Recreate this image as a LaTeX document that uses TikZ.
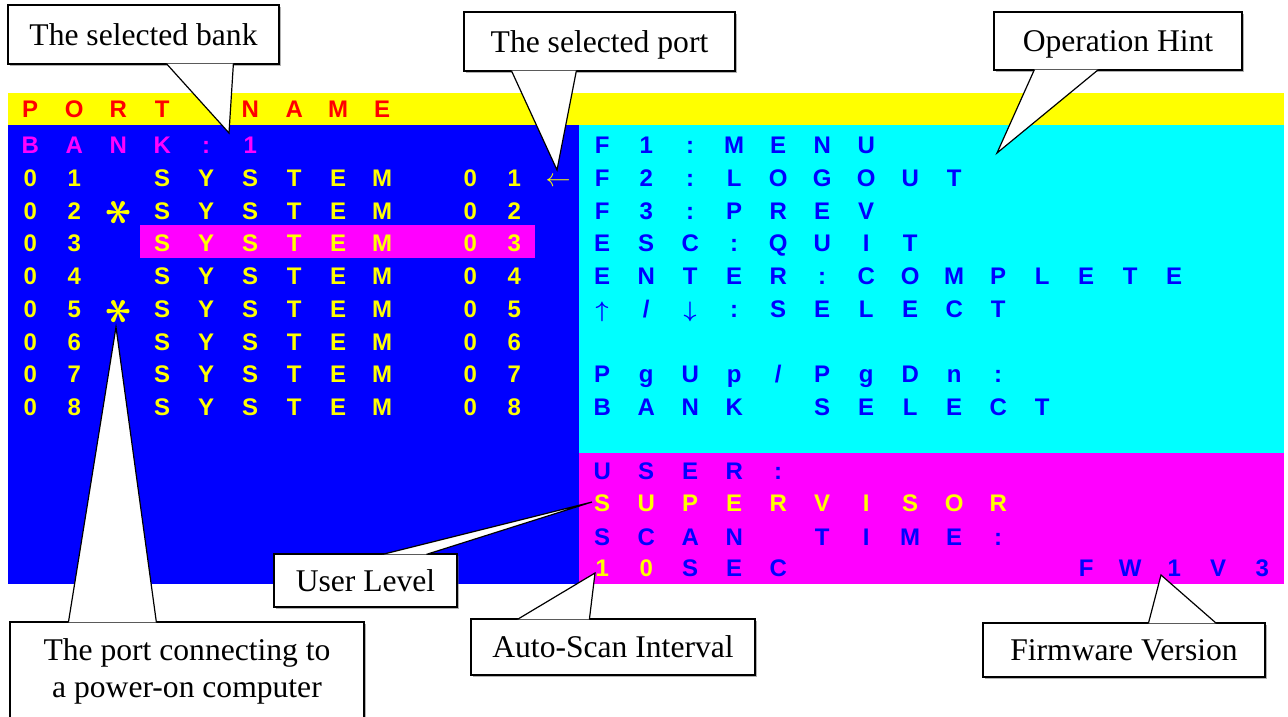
\documentclass[tikz,border=0pt]{standalone}
\usepackage{fontspec}
\usepackage{graphicx}
\setmainfont{Liberation Serif}
\newfontfamily\osdfamily{Liberation Sans}
\usetikzlibrary{calc,shadows}
\definecolor{osdyellow}{RGB}{255,255,0}
\definecolor{osdred}{RGB}{255,0,0}
\definecolor{osdblue}{RGB}{0,0,255}
\definecolor{osdcyan}{RGB}{0,255,255}
\definecolor{osdmagenta}{RGB}{255,0,255}
\def\gstopmark{\gstop}
\def\gblank{_}
\newcommand\gr[1]{\grA#1\gstop}
\def\grA#1{\def\gtmp{#1}\ifx\gtmp\gstopmark\else\makebox[44pt]{\ifx\gtmp\gblank\else#1\fi}\expandafter\grA\fi}
\newcommand\bigsym[2]{\scalebox{#1}{\fontsize{10}{12}\selectfont$#2$}}
\newcommand\bigsymb[2]{\scalebox{#1}{\fontsize{10}{12}\selectfont\boldmath$#2$}}
\newcommand\calltail[3]{\path[ctail] (#1) -- (#2) -- (#3);}
\begin{document}
\begin{tikzpicture}[x=1pt,y=-1pt,
  osd/.style={font=\osdfamily\bfseries\fontsize{24}{24}\selectfont, inner sep=0pt, anchor=base west},
  star/.style={inner sep=0pt, text=osdyellow},
  cbase/.style={draw=black, fill=white, line width=1.2pt, inner sep=0pt,
    font=\fontsize{31.6}{37}\selectfont,
    drop shadow={shadow xshift=1.5pt, shadow yshift=-1.5pt, fill=black!60}},
  cbox/.style={cbase, text height=21pt, text depth=0pt},
  ctail/.style={draw=black, fill=white, line width=1.2pt, line join=miter}]
\useasboundingbox (0,0) rectangle (1288,716);
\fill[white] (0,0) rectangle (1288,716);
% screen
\fill[osdyellow] (8,93) rectangle (1284,125);
\fill[osdblue] (8,125) rectangle (579,584);
\fill[osdcyan] (579,125) rectangle (1284,453);
\fill[osdmagenta] (579,453) rectangle (1284,584);
\fill[osdmagenta] (140,225) rectangle (535,258);
% left column
\node[osd, text=osdred] (pn) at (8,117.6) {\gr{PORT_NAME}};
\node[osd, text=osdmagenta] (bk) at (8,153.6) {\gr{BANK:1}};
\node[osd, text=osdyellow] (r1) at (8,186.35) {\gr{01_SYSTEM_01{\bigsym{2.5}{\leftarrow}}}};
\node[osd, text=osdyellow] (r2) at (8,219.1) {\gr{02_SYSTEM_02}};
\node[osd, text=osdyellow] (r3) at (8,251.85) {\gr{03_SYSTEM_03}};
\node[osd, text=osdyellow] (r4) at (8,284.6) {\gr{04_SYSTEM_04}};
\node[osd, text=osdyellow] (r5) at (8,317.35) {\gr{05_SYSTEM_05}};
\node[osd, text=osdyellow] (r6) at (8,350.1) {\gr{06_SYSTEM_06}};
\node[osd, text=osdyellow] (r7) at (8,382.85) {\gr{07_SYSTEM_07}};
\node[osd, text=osdyellow] (r8) at (8,415.6) {\gr{08_SYSTEM_08}};
\node[star] (s2) at (119.5,212.5) {\rotatebox{90}{\bigsymb{5.2}{\ast}}};
\node[star] (s5) at (119.5,312) {\rotatebox{90}{\bigsymb{5.2}{\ast}}};
% right column
\node[osd, text=osdblue] (h1) at (580,153.6) {\gr{F1:MENU}};
\node[osd, text=osdblue] (h2) at (580,186.35) {\gr{F2:LOGOUT}};
\node[osd, text=osdblue] (h3) at (580,219.1) {\gr{F3:PREV}};
\node[osd, text=osdblue] (h4) at (580,251.85) {\gr{ESC:QUIT}};
\node[osd, text=osdblue] (h5) at (580,284.6) {\gr{ENTER:COMPLETE}};
\node[osd, text=osdblue] (h6) at (580,317.35) {\gr{{\bigsymb{2.25}{\uparrow}}/{\bigsymb{2.25}{\downarrow}}:SELECT}};
\node[osd, text=osdblue] (h7) at (580,382.85) {\gr{PgUp/PgDn:}};
\node[osd, text=osdblue] (h8) at (580,415.6) {\gr{BANK_SELECT}};
\node[osd, text=osdblue] (u1) at (580,479.6) {\gr{USER:}};
\node[osd, text=osdyellow] (u2) at (580,511.6) {\gr{SUPERVISOR}};
\node[osd, text=osdblue] (u3) at (580,545.1) {\gr{SCAN_TIME:}};
\node[osd, text=osdyellow] (u4a) at (580,576.6) {\gr{10}};
\node[osd, text=osdblue] (u4b) at (668,576.6) {\gr{SEC}};
\node[osd, text=osdblue] (fwv) at (1064,576.6) {\gr{FW1V3}};
% callouts
\node[cbox, minimum width=271pt, minimum height=59pt] (bank) at (143.5,34.5) {The selected bank};
\coordinate (bankA) at ($(bank.south west)+(159,-1)$);
\coordinate (bankB) at ($(bank.south west)+(226,-1)$);
\coordinate (bankTip) at (229,133);
\calltail{bankA}{bankTip}{bankB}
\node[cbox, minimum width=271pt, minimum height=59pt] (port) at (599.5,41.5) {The selected port};
\coordinate (portA) at ($(port.south west)+(48,-1)$);
\coordinate (portB) at ($(port.south west)+(113,-1)$);
\coordinate (portTip) at (557,170);
\calltail{portA}{portTip}{portB}
\node[cbox, minimum width=248pt, minimum height=58pt] (hint) at (1118,41) {Operation Hint};
\coordinate (hintA) at ($(hint.south west)+(41,-1)$);
\coordinate (hintB) at ($(hint.south west)+(105,-1)$);
\coordinate (hintTip) at (997,153);
\calltail{hintA}{hintTip}{hintB}
\node[cbase, align=center, minimum width=354pt, minimum height=99pt] (conn) at (187,671.5) {The port connecting to\\a power-on computer};
\coordinate (connA) at ($(conn.north west)+(59,1)$);
\coordinate (connB) at ($(conn.north west)+(147,1)$);
\coordinate (connTip) at (116,327);
\calltail{connA}{connTip}{connB}
\node[cbox, minimum width=183pt, minimum height=53pt] (user) at (365.5,580.5) {User Level};
\coordinate (userA) at ($(user.north west)+(109,1)$);
\coordinate (userB) at ($(user.north west)+(153,1)$);
\coordinate (userTip) at (592,502);
\calltail{userA}{userTip}{userB}
\node[cbox, minimum width=284pt, minimum height=56pt] (auto) at (613,647) {Auto-Scan Interval};
\coordinate (autoA) at ($(auto.north west)+(47,1)$);
\coordinate (autoB) at ($(auto.north west)+(119,1)$);
\coordinate (autoTip) at (595,573);
\calltail{autoA}{autoTip}{autoB}
\node[cbox, minimum width=282pt, minimum height=54pt] (fw) at (1124,650) {Firmware Version};
\coordinate (fwA) at ($(fw.north west)+(166,1)$);
\coordinate (fwB) at ($(fw.north west)+(234,1)$);
\coordinate (fwTip) at (1161,575);
\calltail{fwA}{fwTip}{fwB}
\end{tikzpicture}
\end{document}
